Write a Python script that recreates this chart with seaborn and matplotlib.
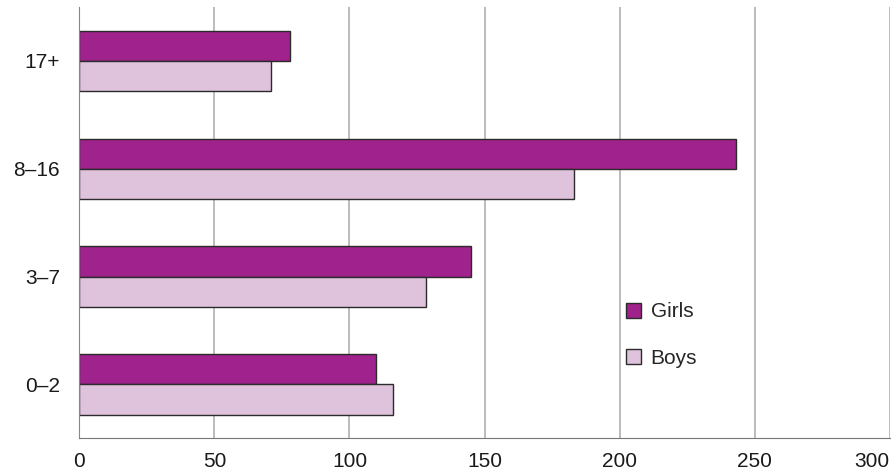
"""Gráfico de barras horizontales por grupo de edad y sexo"""

from matplotlib import pyplot as plt
from matplotlib.patches import Patch
import pandas as pd
import seaborn as sns

# Datos
grupos = ['17+', '8–16', '3–7', '0–2']
girls = [78, 243, 145, 110]
boys = [71, 183, 128.5, 116]

colores = {'Girls': '#A0228C', 'Boys': '#DFC2DC'}

datos = pd.DataFrame({
    'Grupo': grupos * 2,
    'Valor': girls + boys,
    'Sexo': ['Girls'] * len(grupos) + ['Boys'] * len(grupos),
})

sns.set_style('white')
plt.rcParams['font.family'] = ['Liberation Sans', 'DejaVu Sans']

fig = plt.figure(figsize=(8.96, 4.74), dpi=100)
ax = fig.add_axes([0.0885, 0.0753, 0.9045, 0.91])

sns.barplot(
    data=datos,
    x='Valor',
    y='Grupo',
    hue='Sexo',
    order=grupos,
    hue_order=['Girls', 'Boys'],
    palette=colores,
    saturation=1,
    width=0.56,
    edgecolor='#2b2b2b',
    linewidth=1,
    errorbar=None,
    orient='h',
    legend=False,
    ax=ax,
)

ax.set_xlim(0, 300)
ax.set_xticks([0, 50, 100, 150, 200, 250, 300])
ax.set_xlabel('')
ax.set_ylabel('')
ax.grid(axis='x', color='#b0b0b0', linewidth=1.2)
ax.set_axisbelow(True)
for lado in ['top', 'right']:
    ax.spines[lado].set_visible(False)
ax.spines['left'].set_color('#888888')
ax.spines['bottom'].set_color('#777777')
ax.tick_params(axis='x', length=7, color='#777777', labelsize=15, pad=3,
               labelcolor='#1a1a1a')
ax.tick_params(axis='y', length=0, labelsize=15, pad=14, labelcolor='#1a1a1a')
# el último rótulo se pega al borde
ax.get_xticklabels()[-1].set_horizontalalignment('right')
ax.get_xticklabels()[-1].set_x(300)

# leyenda manual
manijas = [Patch(facecolor=colores[s], edgecolor='#2b2b2b', linewidth=1, label=s)
           for s in ['Girls', 'Boys']]
ax.legend(
    handles=manijas,
    loc='center left',
    bbox_to_anchor=(0.652, 0.2395),
    frameon=False,
    fontsize=15,
    handlelength=0.71,
    handleheight=0.71,
    handletextpad=0.45,
    labelspacing=1.3,
)

fig.savefig('out.png', dpi=100)
